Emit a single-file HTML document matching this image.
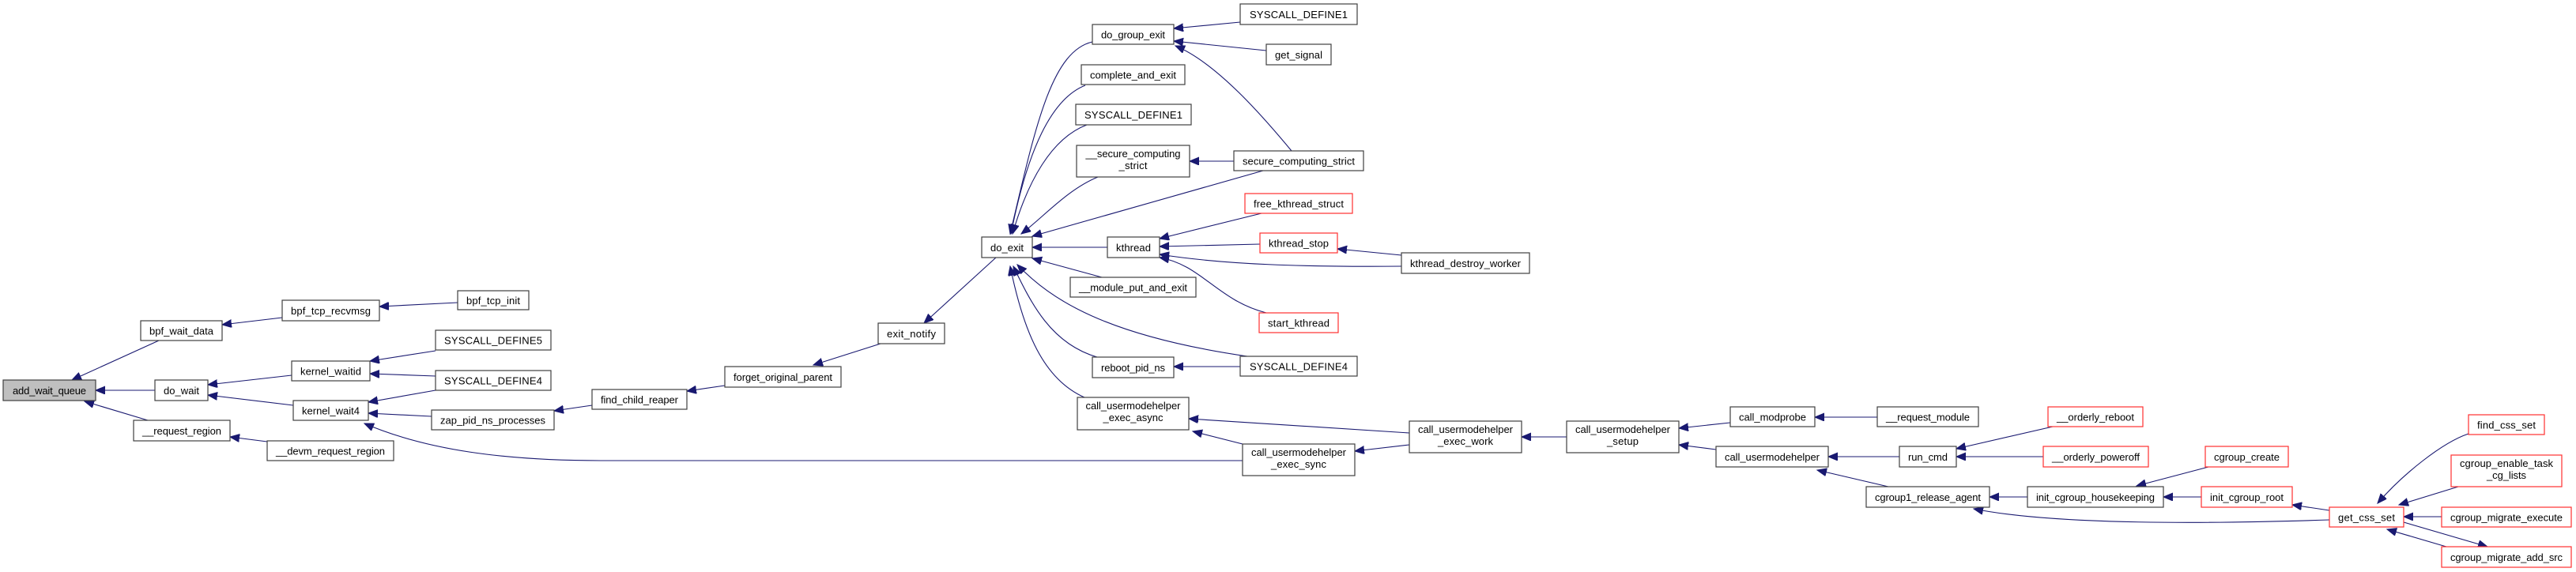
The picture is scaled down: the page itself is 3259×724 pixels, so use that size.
<!DOCTYPE html>
<html><head><meta charset="utf-8"><style>
html,body{margin:0;padding:0;background:#fff;}
svg{display:block;}
text{font-family:"Liberation Sans",Arial,sans-serif;font-size:13px;fill:#000;text-anchor:middle;}
.n{fill:#fff;stroke:#404040;stroke-width:1.2;}
.r{fill:#fff;stroke:#ff3030;stroke-width:1.2;}
.g{fill:#bfbfbf;stroke:#404040;stroke-width:1.2;}
.e{fill:none;stroke:#191970;stroke-width:1.1;marker-end:url(#a);}
</style></head><body>
<svg width="3259" height="724" viewBox="0 0 3259 724" xmlns="http://www.w3.org/2000/svg">
<defs><marker id="a" markerUnits="userSpaceOnUse" markerWidth="14" markerHeight="12" refX="12" refY="5" orient="auto"><path d="M0,0 L12,5 L0,10 z" fill="#191970" stroke="#191970"/></marker></defs>
<g>
<path class="e" d="M201,431 L91,481"/>
<path class="e" d="M196,494 L121,494"/>
<path class="e" d="M187,532 L107,508"/>
<path class="e" d="M357,402 L281,411"/>
<path class="e" d="M579,383 L480,388"/>
<path class="e" d="M369,475 L263,487"/>
<path class="e" d="M371,513 L263,500"/>
<path class="e" d="M551,444 L468,457"/>
<path class="e" d="M551,476 L468,473"/>
<path class="e" d="M551,494 L466,509"/>
<path class="e" d="M546,527 L466,523"/>
<path class="e" d="M1572,583 L760,583 C640,583 540,570 461,536"/>
<path class="e" d="M338,559 L291,553"/>
<path class="e" d="M749,513 L701,520"/>
<path class="e" d="M917,488 L869,495"/>
<path class="e" d="M1114,435 L1029,462"/>
<path class="e" d="M1260,326 L1169,409"/>
<path class="e" d="M1382,53 C1330,65 1310,160 1278,296"/>
<path class="e" d="M1373,108 C1330,125 1300,190 1279,296"/>
<path class="e" d="M1375,158 C1330,175 1300,230 1281,296"/>
<path class="e" d="M1389,224 C1350,240 1320,275 1292,296"/>
<path class="e" d="M1598,216 L1306,299"/>
<path class="e" d="M1401,313 L1306,313"/>
<path class="e" d="M1394,351 L1306,327"/>
<path class="e" d="M1578,451 C1400,425 1330,380 1287,335"/>
<path class="e" d="M1388,452 C1330,435 1305,385 1282,337"/>
<path class="e" d="M1372,503 C1320,480 1295,420 1278,337"/>
<path class="e" d="M1569,28 L1485,36"/>
<path class="e" d="M1602,64 L1485,52"/>
<path class="e" d="M1634,191 C1600,150 1540,80 1487,58"/>
<path class="e" d="M1561,204 L1505,204"/>
<path class="e" d="M1596,270 L1467,302"/>
<path class="e" d="M1594,309 L1467,312"/>
<path class="e" d="M1773,337 C1650,338 1550,335 1467,322"/>
<path class="e" d="M1602,396 C1540,380 1520,335 1467,326"/>
<path class="e" d="M1773,323 L1692,315"/>
<path class="e" d="M1569,464 L1485,464"/>
<path class="e" d="M1783,548 L1504,530"/>
<path class="e" d="M1783,563 L1714,571"/>
<path class="e" d="M1572,562 L1509,546"/>
<path class="e" d="M1982,553 L1925,553"/>
<path class="e" d="M2189,535 L2124,542"/>
<path class="e" d="M2171,569 L2124,563"/>
<path class="e" d="M2375,528 L2296,528"/>
<path class="e" d="M2403,578 L2313,578"/>
<path class="e" d="M2389,616 L2299,595"/>
<path class="e" d="M2597,540 L2475,568"/>
<path class="e" d="M2585,578 L2475,578"/>
<path class="e" d="M2565,629 L2517,629"/>
<path class="e" d="M2947,658 C2800,663 2600,665 2497,644"/>
<path class="e" d="M2794,591 L2703,615"/>
<path class="e" d="M2785,629 L2737,629"/>
<path class="e" d="M2947,646 L2900,639"/>
<path class="e" d="M3123,549 C3090,560 3040,600 3008,637"/>
<path class="e" d="M3110,616 L3035,639"/>
<path class="e" d="M3089,654 L3041,654"/>
<path class="e" d="M3095,692 L3020,670"/>
<path class="e" d="M3041,661 L3147,692"/>
</g>
<g>
<rect class="g" x="4" y="481" width="117" height="26"/><text x="62.5" y="499" textLength="93" lengthAdjust="spacing">add_wait_queue</text>
<rect class="n" x="178" y="406" width="103" height="25"/><text x="229.5" y="423.5" textLength="81" lengthAdjust="spacing">bpf_wait_data</text>
<rect class="n" x="357" y="380" width="123" height="26"/><text x="418.5" y="398" textLength="101" lengthAdjust="spacing">bpf_tcp_recvmsg</text>
<rect class="n" x="196" y="481" width="67" height="26"/><text x="229.5" y="499" textLength="45" lengthAdjust="spacing">do_wait</text>
<rect class="n" x="369" y="457" width="99" height="25"/><text x="418.5" y="474.5" textLength="77" lengthAdjust="spacing">kernel_waitid</text>
<rect class="n" x="371" y="507" width="95" height="25"/><text x="418.5" y="524.5" textLength="73" lengthAdjust="spacing">kernel_wait4</text>
<rect class="n" x="169" y="532" width="122" height="26"/><text x="230" y="550" textLength="100" lengthAdjust="spacing">__request_region</text>
<rect class="n" x="338" y="558" width="160" height="25"/><text x="418" y="575.5" textLength="138" lengthAdjust="spacing">__devm_request_region</text>
<rect class="n" x="579" y="368" width="90" height="24"/><text x="624" y="385" textLength="68" lengthAdjust="spacing">bpf_tcp_init</text>
<rect class="n" x="551" y="418" width="146" height="25"/><text x="624" y="435.5" textLength="124" lengthAdjust="spacing">SYSCALL_DEFINE5</text>
<rect class="n" x="551" y="469" width="146" height="25"/><text x="624" y="486.5" textLength="124" lengthAdjust="spacing">SYSCALL_DEFINE4</text>
<rect class="n" x="546" y="519" width="155" height="25"/><text x="623.5" y="536.5" textLength="133" lengthAdjust="spacing">zap_pid_ns_processes</text>
<rect class="n" x="749" y="493" width="120" height="25"/><text x="809" y="510.5" textLength="98" lengthAdjust="spacing">find_child_reaper</text>
<rect class="n" x="917" y="464" width="147" height="26"/><text x="990.5" y="482" textLength="125" lengthAdjust="spacing">forget_original_parent</text>
<rect class="n" x="1111" y="409" width="84" height="26"/><text x="1153" y="427" textLength="62" lengthAdjust="spacing">exit_notify</text>
<rect class="n" x="1242" y="300" width="64" height="26"/><text x="1274" y="318" textLength="42" lengthAdjust="spacing">do_exit</text>
<rect class="n" x="1382" y="31" width="103" height="25"/><text x="1433.5" y="48.5" textLength="81" lengthAdjust="spacing">do_group_exit</text>
<rect class="n" x="1368" y="82" width="131" height="25"/><text x="1433.5" y="99.5" textLength="109" lengthAdjust="spacing">complete_and_exit</text>
<rect class="n" x="1361" y="132" width="146" height="26"/><text x="1434" y="150" textLength="124" lengthAdjust="spacing">SYSCALL_DEFINE1</text>
<rect class="n" x="1362" y="184" width="143" height="40"/><text x="1433.5" y="199" textLength="120" lengthAdjust="spacing">__secure_computing</text><text x="1433.5" y="214" textLength="36" lengthAdjust="spacing">_strict</text>
<rect class="n" x="1401" y="300" width="66" height="26"/><text x="1434" y="318" textLength="44" lengthAdjust="spacing">kthread</text>
<rect class="n" x="1354" y="351" width="159" height="25"/><text x="1433.5" y="368.5" textLength="137" lengthAdjust="spacing">__module_put_and_exit</text>
<rect class="n" x="1382" y="452" width="103" height="26"/><text x="1433.5" y="470" textLength="81" lengthAdjust="spacing">reboot_pid_ns</text>
<rect class="n" x="1363" y="503" width="141" height="41"/><text x="1433.5" y="518" textLength="120" lengthAdjust="spacing">call_usermodehelper</text><text x="1433.5" y="533" textLength="76" lengthAdjust="spacing">_exec_async</text>
<rect class="n" x="1569" y="5" width="148" height="26"/><text x="1643" y="23" textLength="124" lengthAdjust="spacing">SYSCALL_DEFINE1</text>
<rect class="n" x="1602" y="56" width="82" height="26"/><text x="1643" y="74" textLength="60" lengthAdjust="spacing">get_signal</text>
<rect class="n" x="1561" y="191" width="164" height="25"/><text x="1643" y="208.5" textLength="142" lengthAdjust="spacing">secure_computing_strict</text>
<rect class="r" x="1575" y="245" width="136" height="25"/><text x="1643" y="262.5" textLength="114" lengthAdjust="spacing">free_kthread_struct</text>
<rect class="r" x="1594" y="295" width="98" height="25"/><text x="1643" y="312.5" textLength="76" lengthAdjust="spacing">kthread_stop</text>
<rect class="r" x="1593" y="396" width="100" height="25"/><text x="1643" y="413.5" textLength="78" lengthAdjust="spacing">start_kthread</text>
<rect class="n" x="1569" y="451" width="148" height="25"/><text x="1643" y="468.5" textLength="124" lengthAdjust="spacing">SYSCALL_DEFINE4</text>
<rect class="n" x="1572" y="562" width="142" height="40"/><text x="1643" y="577" textLength="120" lengthAdjust="spacing">call_usermodehelper</text><text x="1643" y="592" textLength="70" lengthAdjust="spacing">_exec_sync</text>
<rect class="n" x="1773" y="320" width="162" height="26"/><text x="1854" y="338" textLength="140" lengthAdjust="spacing">kthread_destroy_worker</text>
<rect class="n" x="1783" y="533" width="142" height="40"/><text x="1854" y="548" textLength="120" lengthAdjust="spacing">call_usermodehelper</text><text x="1854" y="563" textLength="70" lengthAdjust="spacing">_exec_work</text>
<rect class="n" x="1982" y="533" width="142" height="40"/><text x="2053" y="548" textLength="120" lengthAdjust="spacing">call_usermodehelper</text><text x="2053" y="563" textLength="40" lengthAdjust="spacing">_setup</text>
<rect class="n" x="2189" y="515" width="107" height="25"/><text x="2242.5" y="532.5" textLength="85" lengthAdjust="spacing">call_modprobe</text>
<rect class="n" x="2171" y="565" width="142" height="26"/><text x="2242" y="583" textLength="120" lengthAdjust="spacing">call_usermodehelper</text>
<rect class="n" x="2375" y="515" width="128" height="25"/><text x="2439" y="532.5" textLength="106" lengthAdjust="spacing">__request_module</text>
<rect class="n" x="2403" y="565" width="72" height="26"/><text x="2439" y="583" textLength="50" lengthAdjust="spacing">run_cmd</text>
<rect class="r" x="2591" y="515" width="120" height="25"/><text x="2651" y="532.5" textLength="98" lengthAdjust="spacing">__orderly_reboot</text>
<rect class="r" x="2585" y="565" width="133" height="26"/><text x="2651.5" y="583" textLength="111" lengthAdjust="spacing">__orderly_poweroff</text>
<rect class="n" x="2361" y="616" width="156" height="26"/><text x="2439" y="634" textLength="134" lengthAdjust="spacing">cgroup1_release_agent</text>
<rect class="n" x="2565" y="616" width="172" height="26"/><text x="2651" y="634" textLength="150" lengthAdjust="spacing">init_cgroup_housekeeping</text>
<rect class="r" x="2790" y="565" width="105" height="26"/><text x="2842.5" y="583" textLength="83" lengthAdjust="spacing">cgroup_create</text>
<rect class="r" x="2785" y="616" width="115" height="26"/><text x="2842.5" y="634" textLength="93" lengthAdjust="spacing">init_cgroup_root</text>
<rect class="r" x="2947" y="642" width="94" height="25"/><text x="2994" y="659.5" textLength="72" lengthAdjust="spacing">get_css_set</text>
<rect class="r" x="3123" y="525" width="96" height="25"/><text x="3171" y="542.5" textLength="74" lengthAdjust="spacing">find_css_set</text>
<rect class="r" x="3101" y="576" width="140" height="40"/><text x="3171" y="591" textLength="118" lengthAdjust="spacing">cgroup_enable_task</text><text x="3171" y="606" textLength="50" lengthAdjust="spacing">_cg_lists</text>
<rect class="r" x="3089" y="642" width="164" height="25"/><text x="3171" y="659.5" textLength="142" lengthAdjust="spacing">cgroup_migrate_execute</text>
<rect class="r" x="3089" y="692" width="164" height="26"/><text x="3171" y="710" textLength="142" lengthAdjust="spacing">cgroup_migrate_add_src</text>
</g>
</svg>
</body></html>
